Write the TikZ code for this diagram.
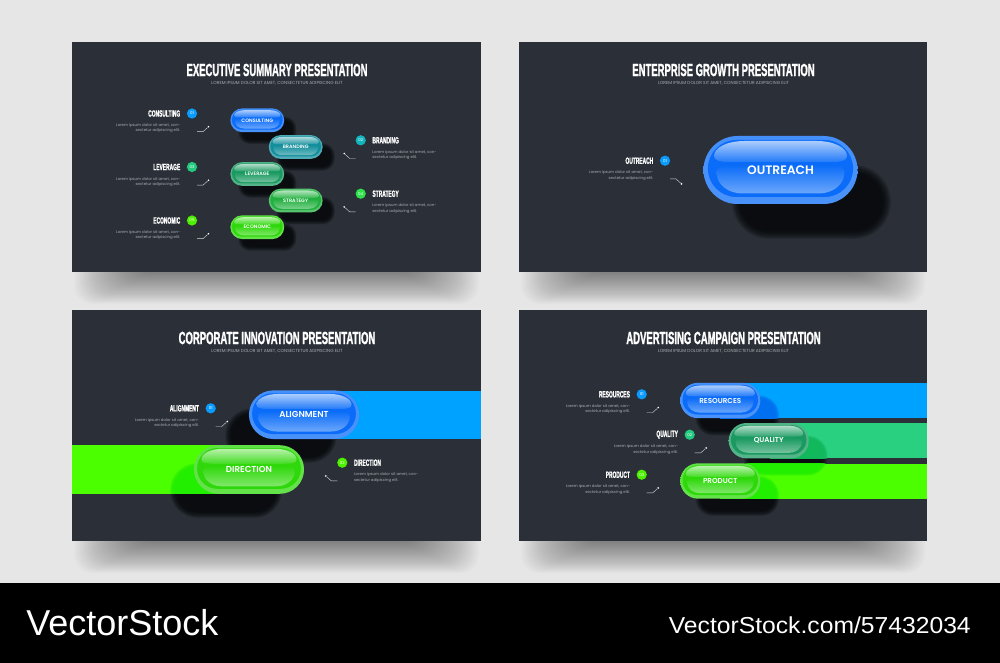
\documentclass[tikz,border=0pt]{standalone}
\usepackage{fontspec}
\usepackage{xcolor}
\setmainfont{Poppins}
\newfontface\pillfont{Poppins SemiBold}
\newfontfamily\condfont[FakeStretch=0.54,FakeBold=1.2]{Liberation Sans Bold}
\newfontfamily\footfont{Liberation Sans}
\newfontfamily\urlfont[FakeStretch=1.07]{Liberation Sans}

\definecolor{pagebg}{HTML}{E6E6E6}
\definecolor{panelbg}{HTML}{2B3038}
\definecolor{bodygray}{HTML}{A9ADB3}
\definecolor{pblue}{HTML}{0A6CF8}
\definecolor{pteal}{HTML}{138F9C}
\definecolor{pmint}{HTML}{1A9A60}
\definecolor{pgreen}{HTML}{22B040}
\definecolor{plime}{HTML}{2ED80A}
\definecolor{bandblue}{HTML}{00A2FF}
\definecolor{bandmint}{HTML}{28D080}
\definecolor{bandlime}{HTML}{4CFF00}
\definecolor{tintblue}{HTML}{0070F0}
\definecolor{tintmint}{HTML}{12B85C}
\definecolor{tintlime}{HTML}{22EE00}
\definecolor{dotblue}{HTML}{0A9BFF}
\definecolor{dotteal}{HTML}{12B5BD}
\definecolor{dotmint}{HTML}{22C97F}
\definecolor{dotgreen}{HTML}{2FE04A}
\definecolor{dotlime}{HTML}{4CF000}

\tikzset{
  slidetitle/.style={text=white,inner sep=0pt,font=\condfont\fontsize{13.2}{14}\selectfont},
  slidesub/.style={text=bodygray,inner sep=0pt,font=\fontsize{3.3}{4}\selectfont},
  infohead/.style={text=white,inner sep=0pt,font=\condfont\fontsize{6.8}{7}\selectfont},
  infobody/.style={text=bodygray,inner sep=0pt,align=#1,font=\fontsize{2.9}{4}\selectfont},
  infobadge/.style={circle,fill=#1,text=white,inner sep=0pt,minimum size=7.7pt,font=\fontsize{3}{3}\selectfont},
  tickline/.style={white!85!black,line width=0.3pt},
  tickdot/.style={circle,fill=white,inner sep=0pt,minimum size=1.4pt},
}

% blurred blob from a stack of see-through rounded boxes (x1,y1,x2,y2,spread,style)
\newcommand{\softblob}[6]{
  \foreach \k in {0,...,7}{
    \pgfmathsetmacro{\gr}{#5*(1-\k/3.5)}
    \pgfmathsetmacro{\rr}{0.75*(#4-#2+2*\gr)/2}
    \fill[#6,rounded corners=\rr pt] ({#1-\gr},{#2-\gr}) rectangle ({#3+\gr},{#4+\gr});
  }
}

% layer of a pill, in the frame of the largest pill (style, half width, top, bottom)
\newcommand{\pillbit}[4]{
  \pgfmathsetmacro{\rr}{0.75*\pills*(#4-#3)/2}
  \path[#1,rounded corners=\rr pt] (-#2,#3) rectangle (#2,#4);
}

% glass pill: name, centre x, centre y, scale, colour, label size, label
\newcommand{\glasspill}[7]{
  \def\pills{#4}
  \begin{scope}[shift={(#2,#3)},scale=#4]
    \pillbit{top color=#5!76!white,bottom color=#5!74!white}{77}{-34}{34}
    \pillbit{fill=#5}{72.6}{-30}{27}
    \path[top color=#5!34!white,bottom color=#5!90!white] (-36,-29) -- (36,-29)
      .. controls (54,-29) and (66.5,-22) .. (66.5,-14)
      .. controls (66.5,-9) and (60,-8) .. (50,-8) -- (-50,-8)
      .. controls (-60,-8) and (-66.5,-9) .. (-66.5,-14)
      .. controls (-66.5,-22) and (-54,-29) .. (-36,-29) -- cycle;
    \path[top color=#5,bottom color=#5!60!white] (-50,-5) -- (50,-5)
      .. controls (60,-5) and (64,-3) .. (64,2)
      .. controls (64,15) and (52,23.5) .. (38,23.5) -- (-38,23.5)
      .. controls (-52,23.5) and (-64,15) .. (-64,2)
      .. controls (-64,-3) and (-60,-5) .. (-50,-5) -- cycle;
    \node[text=white,inner sep=0pt] (#1) at (0,0) {\pillfont\fontsize{#6}{#6}\selectfont #7};
  \end{scope}
}

% info block, label on the left: name, badge x, y, title, number, colour, tick sign
\newcommand{\infoleft}[7]{
  \node[infobadge=#6] (#1-badge) at (#2,#3) {#5};
  \node[infohead,anchor=east] (#1-head) at ({#2-11.5},#3) {#4};
  \node[infobody=right,anchor=north east] (#1-text) at ({#2-11.5},{#3+9.8}) {Lorem ipsum dolor sit amet, con-\\sectetur adipiscing elit.};
  \coordinate (#1-a) at ({#2+5},{#3+18.2});
  \coordinate (#1-b) at ({#2+11},{#3+18.2});
  \node[tickdot] (#1-c) at ({#2+16.5},{#3+18.2+#7*5}) {};
  \draw[tickline] (#1-a) -- (#1-b) -- (#1-c);
}

% info block, label on the right: name, badge x, y, title, number, colour
\newcommand{\inforight}[6]{
  \node[infobadge=#6] (#1-badge) at (#2,#3) {#5};
  \node[infohead,anchor=west] (#1-head) at ({#2+11.5},#3) {#4};
  \node[infobody=left,anchor=north west] (#1-text) at ({#2+11.5},{#3+9.8}) {Lorem ipsum dolor sit amet, con-\\sectetur adipiscing elit.};
  \coordinate (#1-a) at ({#2-5},{#3+18.2});
  \coordinate (#1-b) at ({#2-11},{#3+18.2});
  \node[tickdot] (#1-c) at ({#2-16.5},{#3+13.2}) {};
  \draw[tickline] (#1-a) -- (#1-b) -- (#1-c);
}

\begin{document}
\begin{tikzpicture}[x=0.75pt,y=-0.75pt]
  \useasboundingbox (0,0) rectangle (1000,663);
  \fill[pagebg] (0,0) rectangle (1000,663);
  \fill[black] (0,583) rectangle (1000,663);

  % slides and their shadows
  \foreach \px/\py/\qx/\qy in {72/42/481/272,519/42/927/272,72/310/481/541,519/310/927/541}{
    \foreach \k in {0,...,29}
      \fill[black,opacity=0.014,rounded corners=14pt] ({\px+2+\k*2},\qy-30) rectangle ({\qx-2-\k*2},{\qy+32-\k*1.05});
    \fill[panelbg] (\px,\py) rectangle (\qx,\qy);
  }

  % titles
  \foreach \cx/\ty/\ttl in {277/70/EXECUTIVE SUMMARY PRESENTATION,723.5/70/ENTERPRISE GROWTH PRESENTATION,277/338/CORPORATE INNOVATION PRESENTATION,723.5/338/ADVERTISING CAMPAIGN PRESENTATION}{
    \node[slidetitle] at (\cx,\ty) {\ttl};
    \node[slidesub] at (\cx,\ty+13) {LOREM IPSUM DOLOR SIT AMET, CONSECTETUR ADIPISCING ELIT};
  }

  % first slide
  \foreach \cx/\cy in {257.3/120.3,295.7/147,257.3/174,295.7/200.6,257.3/227.2}
    \softblob{\cx-17}{\cy-1.7}{\cx+37}{\cy+21.7}{2.2}{black,opacity=0.14};
  \glasspill{consulting}{257.3}{120.3}{0.35}{pblue}{3.7}{CONSULTING}
  \glasspill{branding}{295.7}{147}{0.35}{pteal}{3.7}{BRANDING}
  \glasspill{leverage}{257.3}{174}{0.35}{pmint}{3.7}{LEVERAGE}
  \glasspill{strategy}{295.7}{200.6}{0.35}{pgreen}{3.7}{STRATEGY}
  \glasspill{economic}{257.3}{227.2}{0.35}{plime}{3.7}{ECONOMIC}
  \infoleft{consultinfo}{192}{113.5}{CONSULTING}{01}{dotblue}{-1}
  \inforight{brandinfo}{360.7}{140.3}{BRANDING}{02}{dotteal}
  \infoleft{leverinfo}{192}{167}{LEVERAGE}{03}{dotmint}{-1}
  \inforight{stratinfo}{360.7}{193.7}{STRATEGY}{04}{dotgreen}
  \infoleft{econinfo}{192}{220.5}{ECONOMIC}{05}{dotlime}{-1}

  % second slide
  \softblob{736}{169}{887}{235}{4}{black,opacity=0.14}
  \glasspill{outreach}{780.5}{170}{1}{pblue}{9.2}{OUTREACH}
  \infoleft{outinfo}{665}{160.7}{OUTREACH}{01}{dotblue}{1}

  % third slide
  \softblob{228}{411}{334}{460}{3}{black,opacity=0.14}
  \softblob{173}{466}{279}{515}{3}{black,opacity=0.14}
  \fill[bandblue] (300,390.5) rectangle (481,439);
  \fill[bandlime] (72,445.3) rectangle (250,493.7);
  \begin{scope}
    \clip (72,445.3) rectangle (250,493.7);
    \softblob{173}{466}{279}{515}{3}{tintlime,opacity=0.4}
  \end{scope}
  \glasspill{alignment}{304}{414.7}{0.715}{pblue}{6.5}{ALIGNMENT}
  \glasspill{direction}{249}{469.5}{0.715}{plime}{6.5}{DIRECTION}
  \infoleft{alignfo}{210.7}{408.3}{ALIGNMENT}{01}{dotblue}{-1}
  \inforight{dirinfo}{342.3}{462.7}{DIRECTION}{02}{dotlime}

  % fourth slide
  \foreach \cx/\cy in {720.3/400.5,768.7/440.7,720.3/481}
    \softblob{\cx-22.3}{\cy-2.5}{\cx+56.3}{\cy+32.5}{2.5}{black,opacity=0.14};
  \fill[bandblue] (720,383) rectangle (927,418.2);
  \fill[bandmint] (770,423.2) rectangle (927,458.4);
  \fill[bandlime] (720,463.5) rectangle (927,498.7);
  \begin{scope}
    \clip (720,383) rectangle (927,418.2);
    \softblob{698}{398}{776.6}{433}{2.5}{tintblue,opacity=0.4}
  \end{scope}
  \begin{scope}
    \clip (770,423.2) rectangle (927,458.4);
    \softblob{746.4}{438.2}{825}{473.2}{2.5}{tintmint,opacity=0.4}
  \end{scope}
  \begin{scope}
    \clip (720,463.5) rectangle (927,498.7);
    \softblob{746.4}{438.2}{825}{473.2}{2.5}{tintlime,opacity=0.4}
    \softblob{698}{478.5}{776.6}{513.5}{2.5}{tintlime,opacity=0.4}
  \end{scope}
  \glasspill{resources}{720.3}{400.5}{0.52}{pblue}{5.4}{RESOURCES}
  \glasspill{quality}{768.7}{440.7}{0.52}{pmint}{5.4}{QUALITY}
  \glasspill{product}{720.3}{481}{0.52}{plime}{5.4}{PRODUCT}
  \infoleft{resinfo}{641.7}{394.3}{RESOURCES}{01}{dotblue}{-1}
  \infoleft{qualinfo}{689.7}{434.7}{QUALITY}{02}{dotmint}{-1}
  \infoleft{prodinfo}{641.7}{474.7}{PRODUCT}{03}{dotlime}{-1}

  % footer
  \node[anchor=west,text=white,inner sep=0pt,font=\footfont\fontsize{27}{30}\selectfont] (brand) at (26,622.5) {VectorStock};
  \node[anchor=east,text=white,inner sep=0pt,font=\urlfont\fontsize{17.3}{18}\selectfont] (imgurl) at (971,625.5) {VectorStock.com/57432034};
\end{tikzpicture}
\end{document}
